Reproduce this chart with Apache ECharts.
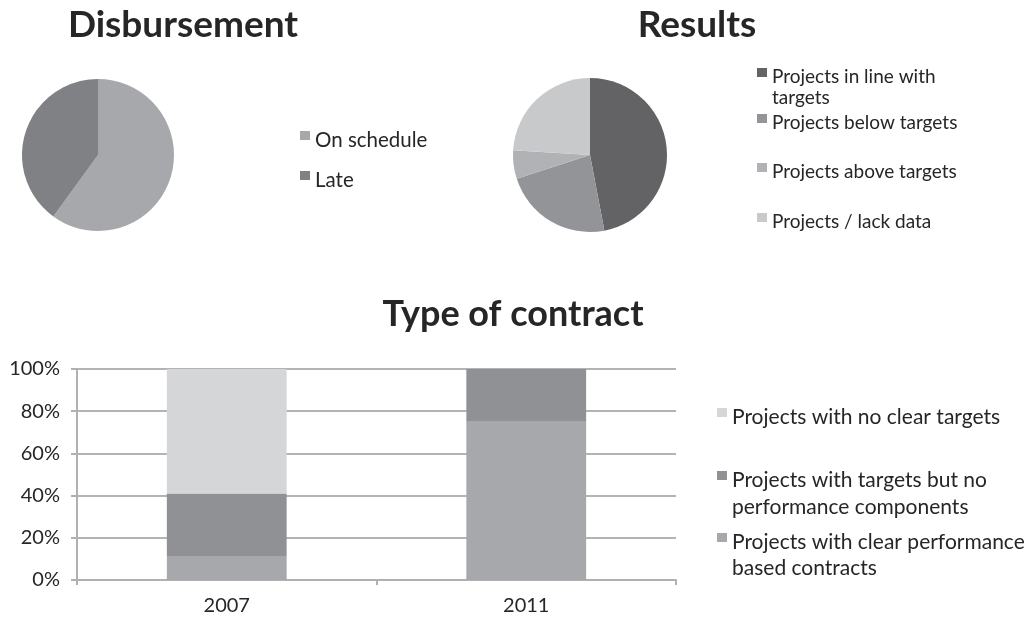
<!DOCTYPE html>
<html>
<head>
<meta charset="utf-8">
<script src="https://cdn.jsdelivr.net/npm/echarts@6/dist/echarts.min.js"></script>
<style>
  html, body { margin: 0; padding: 0; background: #fff; }
  #chart { width: 1028px; height: 617px; }
</style>
</head>
<body>
<div id="chart"></div>
<script>
// disbursement pie
const disbNames = ['On schedule', 'Late'];
const disbValues = [60, 40];
// results pie
const resNames = ['Projects in line with targets', 'Projects below targets', 'Projects above targets', 'Projects / lack data'];
const resValues = [47, 23, 6, 24];
// type of contract, stacked 100%
const years = ['2007', '2011'];
const clearPerf = [0.11, 0.75];
const targetsNoPerf = [0.30, 0.25];
const noClear = [0.59, 0];

const txt = '#262626';
const font = 'Lato';

// legend icon: square sits at the top of a taller box so it lines up with the first text line
function icon(lh, lines) {
  const h = lh * lines;
  const y0 = lh / 2 - 9;
  return 'path://M0,0h0.01v0.01h-0.01z M0,' + y0 + 'h10v9h-10z M0,' + (h - 0.01) + 'h0.01v0.01h-0.01z';
}
function legend(name, left, y1, size, lh, label) {
  const lines = label ? label.split('\n').length : 1;
  return {
    data: [name],
    left: left,
    top: y1 - lh / 2,
    padding: 0,
    orient: 'vertical',
    selectedMode: false,
    itemWidth: 10,
    itemHeight: lh * lines,
    icon: icon(lh, lines),
    formatter: label ? function () { return label; } : '{name}',
    textStyle: { fontFamily: font, fontSize: size, lineHeight: lh, color: txt }
  };
}

const chart = echarts.init(document.getElementById('chart'));
chart.setOption({
  animation: false,
  backgroundColor: '#fff',
  title: [
    { text: 'Disbursement', left: 183, top: 7, textAlign: 'center', padding: 0,
      textStyle: { fontFamily: font, fontSize: 37, fontWeight: 'bold', color: txt } },
    { text: 'Results', left: 697, top: 7, textAlign: 'center', padding: 0,
      textStyle: { fontFamily: font, fontSize: 37, fontWeight: 'bold', color: txt } },
    { text: 'Type of contract', left: 513, top: 296, textAlign: 'center', padding: 0,
      textStyle: { fontFamily: font, fontSize: 36, fontWeight: 'bold', color: txt } }
  ],
  legend: [
    legend(disbNames[0], 300, 140, 20.5, 22),
    legend(disbNames[1], 300, 180, 20.5, 22),
    legend(resNames[0], 757, 77, 19, 21, 'Projects in line with\ntargets'),
    legend(resNames[1], 757, 123, 19, 21),
    legend(resNames[2], 757, 172, 19, 21),
    legend(resNames[3], 757, 222, 19, 21),
    legend('Projects with no clear targets', 717, 417, 21, 27),
    legend('Projects with targets but no performance components', 717, 480, 21, 27, 'Projects with targets but no\nperformance components'),
    legend('Projects with clear performance based contracts', 717, 542, 21, 26, 'Projects with clear performance\nbased contracts')
  ],
  grid: { left: 77, right: 352, top: 369, bottom: 37 },
  xAxis: {
    type: 'category',
    data: years,
    axisLine: { lineStyle: { color: '#b0b0b0', width: 2 } },
    axisTick: { show: true, length: 5, lineStyle: { color: '#b0b0b0', width: 2 } },
    axisLabel: { fontFamily: font, fontSize: 20, color: txt, margin: 16 }
  },
  yAxis: {
    type: 'value',
    min: 0,
    max: 1,
    interval: 0.2,
    axisLine: { show: true, lineStyle: { color: '#b0b0b0', width: 2 } },
    axisTick: { show: true, length: 6, lineStyle: { color: '#b0b0b0', width: 2 } },
    splitLine: { lineStyle: { color: '#b3b3b3', width: 2 } },
    axisLabel: {
      fontFamily: font, fontSize: 20, color: txt, margin: 17,
      formatter: function (v) { return Math.round(v * 100) + '%'; }
    }
  },
  series: [
    {
      type: 'pie', name: 'Disbursement', center: [98, 155], radius: 76, startAngle: 90,
      label: { show: false }, labelLine: { show: false }, silent: true,
      color: ['#a7a8ac', '#808184'],
      data: disbNames.map((n, i) => ({ name: n, value: disbValues[i] }))
    },
    {
      type: 'pie', name: 'Results', center: [590, 155], radius: 77, startAngle: 90,
      label: { show: false }, labelLine: { show: false }, silent: true,
      color: ['#636365', '#939497', '#b1b2b5', '#c8c9cb'],
      data: resNames.map((n, i) => ({ name: n, value: resValues[i] }))
    },
    {
      type: 'bar', name: 'Projects with clear performance based contracts', stack: 'c',
      barWidth: '40%', itemStyle: { color: '#a7a8ab' }, data: clearPerf
    },
    {
      type: 'bar', name: 'Projects with targets but no performance components', stack: 'c',
      barWidth: '40%', itemStyle: { color: '#909194' }, data: targetsNoPerf
    },
    {
      type: 'bar', name: 'Projects with no clear targets', stack: 'c',
      barWidth: '40%', itemStyle: { color: '#d5d6d8' }, data: noClear
    }
  ]
});
</script>
</body>
</html>
